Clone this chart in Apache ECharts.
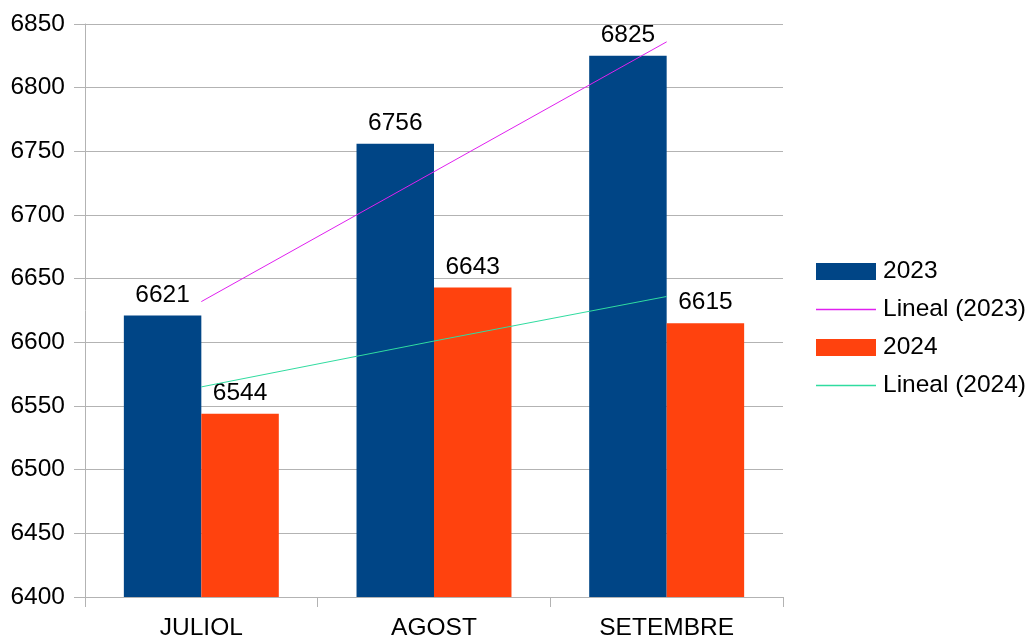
<!DOCTYPE html>
<html>
<head>
<meta charset="utf-8">
<script src="https://cdn.jsdelivr.net/npm/echarts@6/dist/echarts.min.js"></script>
<style>html,body{margin:0;padding:0;background:#fff}#c{width:1035px;height:642px}</style>
</head>
<body>
<div id="c"></div>
<script>
const categories = ['JULIOL', 'AGOST', 'SETEMBRE'];
const values2023 = [6621, 6756, 6825];
const values2024 = [6544, 6643, 6615];
const trend2023 = [6632, 6734, 6836];
const trend2024 = [6565, 6601, 6636];
const yTicks = {min: 6400, max: 6850, step: 50};

const font = 'Liberation Sans, Arial, sans-serif';
const fs = 24.5;
const grey = '#b3b3b3';
const lineIcon = 'path://M0,0H60V1.4H0Z';
const chart = echarts.init(document.getElementById('c'), null, {renderer: 'canvas'});
const labelCfg = {show: true, position: 'top', distance: 8, fontSize: fs, color: '#000', fontFamily: font};
chart.setOption({
  animation: false,
  backgroundColor: '#fff',
  grid: {left: 85, right: 252, top: 24, bottom: 45, containLabel: false},
  legend: {
    orient: 'vertical', left: 811, top: 254, itemWidth: 60, itemHeight: 17, itemGap: 13,
    textStyle: {fontSize: fs, color: '#000', fontFamily: font, padding: [0, 0, 0, 2]},
    data: [
      {name: '2023', icon: 'rect'},
      {name: 'Lineal (2023)', icon: lineIcon},
      {name: '2024', icon: 'rect'},
      {name: 'Lineal (2024)', icon: lineIcon}
    ]
  },
  xAxis: {
    type: 'category', data: categories,
    axisLine: {lineStyle: {color: grey, width: 1}},
    axisTick: {show: true, length: 10, lineStyle: {color: grey}},
    axisLabel: {fontSize: fs, color: '#000', fontFamily: font, margin: 19}
  },
  yAxis: {
    type: 'value', min: yTicks.min, max: yTicks.max, interval: yTicks.step,
    axisLine: {show: true, lineStyle: {color: grey, width: 1}},
    axisTick: {show: true, length: 11, lineStyle: {color: grey}},
    splitLine: {lineStyle: {color: grey, width: 1}},
    axisLabel: {fontSize: fs, color: '#000', fontFamily: font, margin: 20,
      formatter: function (v) { return String(v); }}
  },
  series: [
    {name: '2023', type: 'bar', data: values2023, barWidth: '33.3%', barGap: '0%',
     itemStyle: {color: '#004586'}, label: labelCfg},
    {name: '2024', type: 'bar', data: values2024, barWidth: '33.3%', barGap: '0%',
     itemStyle: {color: '#ff420e'}, label: labelCfg},
    {name: 'Lineal (2023)', type: 'line', data: trend2023, symbol: 'none', z: 5,
     lineStyle: {color: '#e020f0', width: 1}, itemStyle: {color: '#e020f0'}},
    {name: 'Lineal (2024)', type: 'line', data: trend2024, symbol: 'none', z: 5,
     lineStyle: {color: '#30dca0', width: 1}, itemStyle: {color: '#30dca0'}}
  ]
});
</script>
</body>
</html>
